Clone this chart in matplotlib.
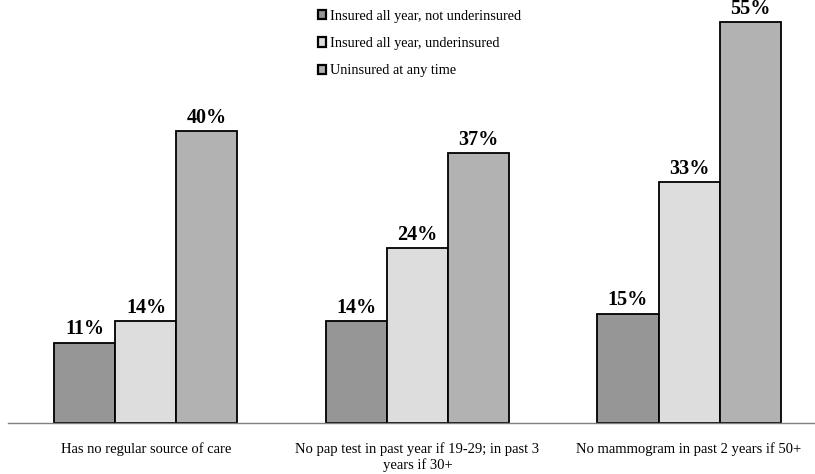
import matplotlib
matplotlib.use("Agg")
import matplotlib.pyplot as plt
import numpy as np
from matplotlib.patches import Patch

categories = ["Has no regular source of care",
              "No pap test in past year if 19-29; in past 3\nyears if 30+",
              "No mammogram in past 2 years if 50+"]
series_names = ["Insured all year, not underinsured",
                "Insured all year, underinsured",
                "Uninsured at any time"]
not_underinsured = [11, 14, 15]
underinsured = [14, 24, 33]
uninsured = [40, 37, 55]
colors = ["#969696", "#dddddd", "#b2b2b2"]

plt.rcParams['font.family'] = ['Liberation Serif', 'DejaVu Serif']

fig = plt.figure(figsize=(8.15, 4.74), dpi=100)
W, H = 815, 474
ax = fig.add_axes([8 / W, 1 - 423 / H, (815 - 8) / W, 418 / H])

x = np.arange(len(categories))
bw = 0.2247
series = [not_underinsured, underinsured, uninsured]
for i, (vals, c) in enumerate(zip(series, colors)):
    pos = x + (i - 1) * bw
    bars = ax.bar(pos, vals, width=bw, color=c, edgecolor="black", linewidth=1.3, zorder=2)
    for b, v in zip(bars, vals):
        ax.annotate(f"{v}%", (b.get_x() + b.get_width() / 2, v), xytext=(0, 6),
                    textcoords="offset points", ha="center", va="baseline",
                    fontsize=14.5, fontweight="bold", annotation_clip=False)

ax.set_xlim(-0.508, 2.464)
ax.set_ylim(0, 418 / 7.29)
for s in ["top", "right", "left"]:
    ax.spines[s].set_visible(False)
ax.spines["bottom"].set_color("#808080")
ax.spines["bottom"].set_linewidth(1.0)
ax.set_yticks([])
ax.set_xticks(x)
ax.set_xticklabels(categories, fontsize=10.5, va="top", linespacing=1.2)
ax.tick_params(axis="x", length=0, pad=14)

handles = [Patch(facecolor=c, edgecolor="black", linewidth=1.6) for c in colors]
fig.legend(handles, series_names, loc="upper left", bbox_to_anchor=(312 / W, 1 - 4 / H),
           frameon=False, fontsize=10.3, handlelength=0.6, handleheight=0.6,
           handletextpad=0.25, labelspacing=1.0, borderaxespad=0)

fig.savefig("out.png", dpi=100)
